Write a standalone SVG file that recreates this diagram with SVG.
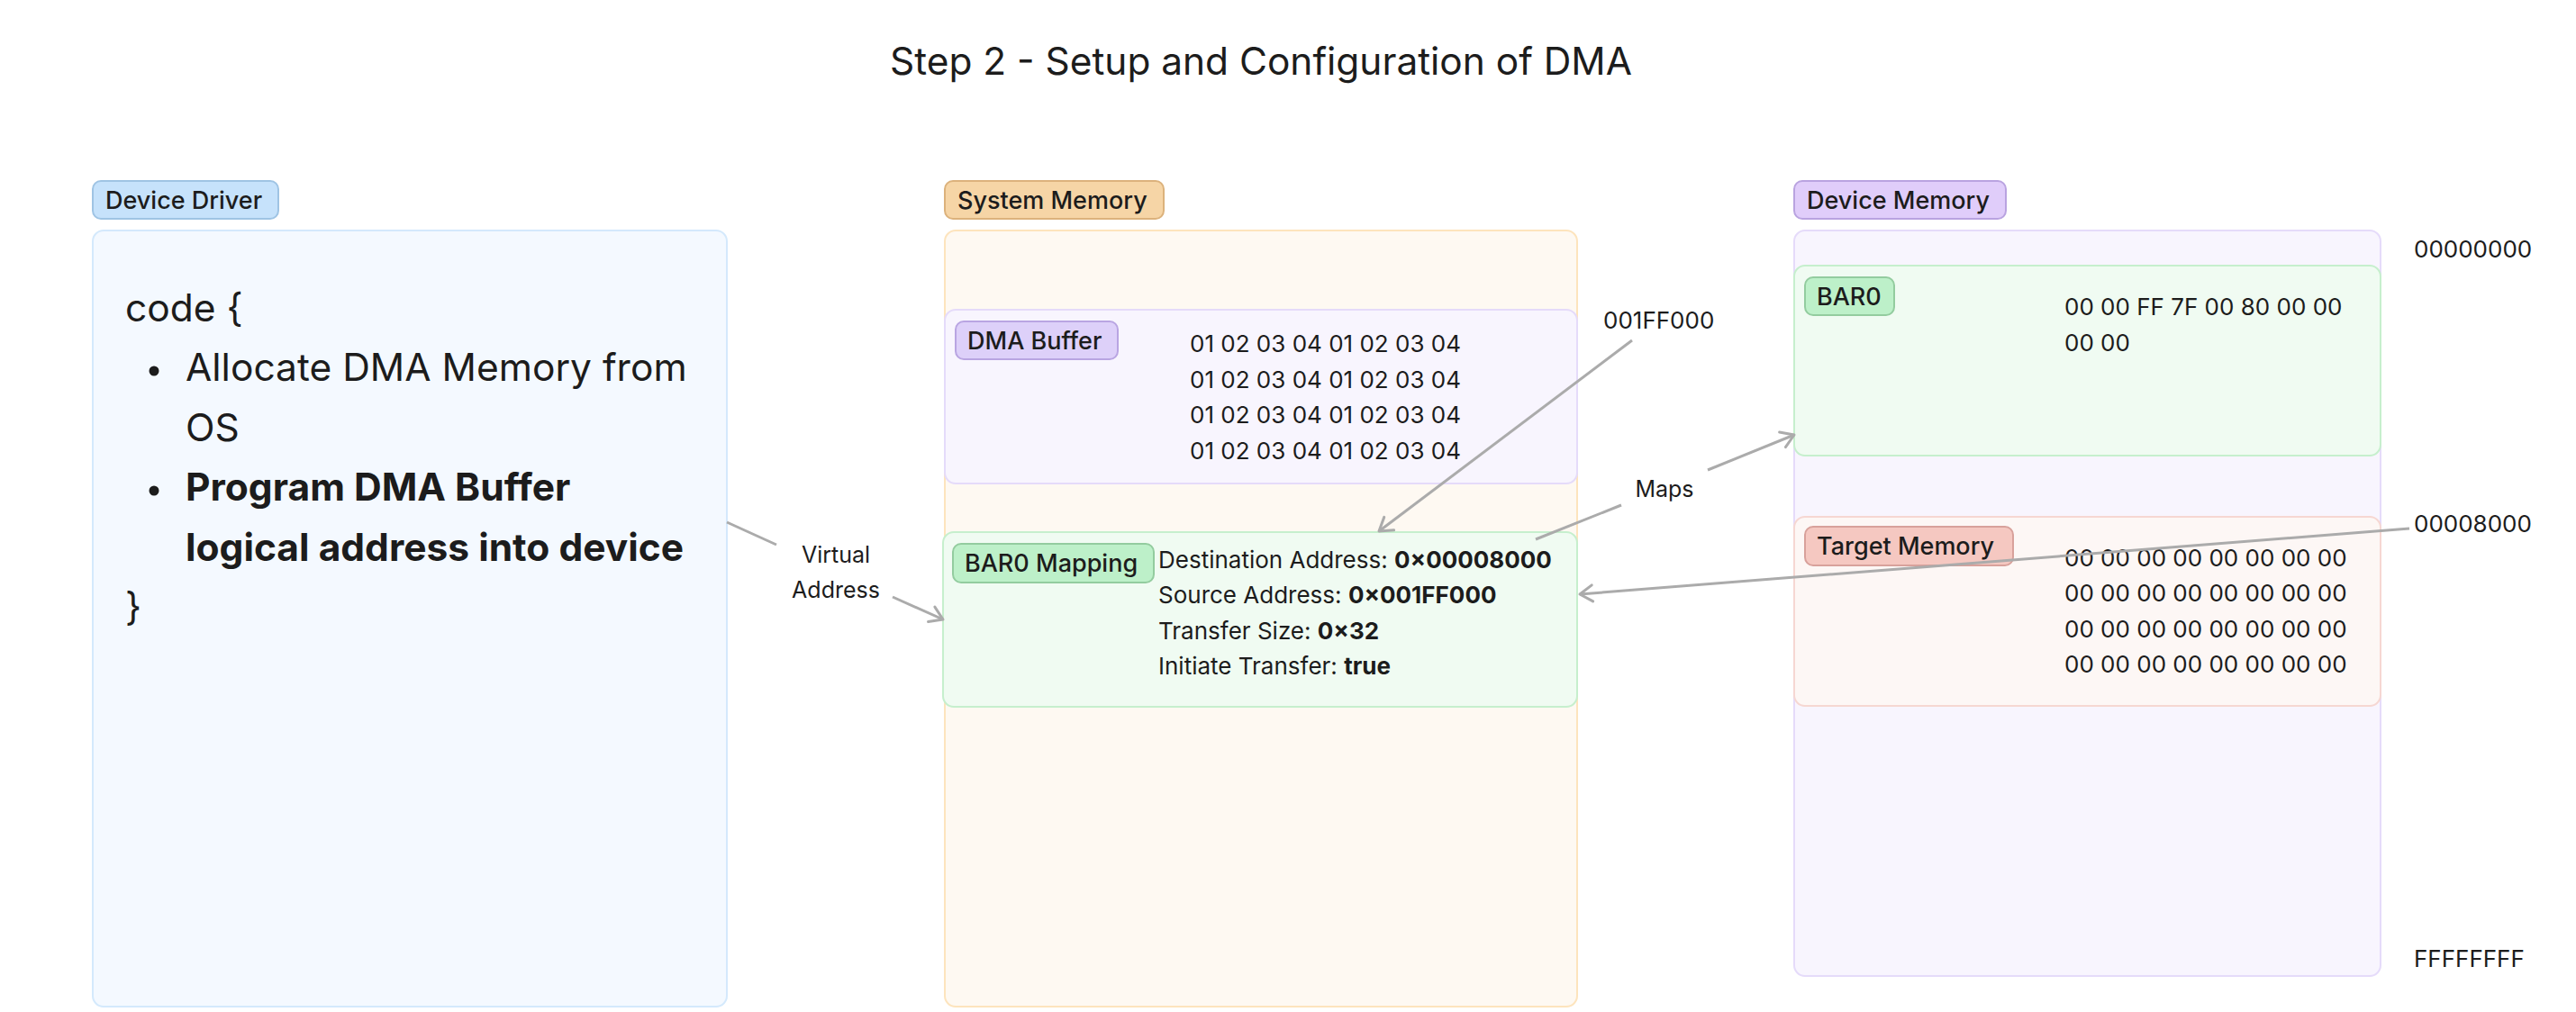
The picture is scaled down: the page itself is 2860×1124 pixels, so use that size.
<svg xmlns="http://www.w3.org/2000/svg" width="2860" height="1124" viewBox="0 0 2860 1124">
<defs>
<style>
text{font-family:Inter,"Noto Sans","Liberation Sans",sans-serif;fill:#1c1c1c;}
.title{font-size:42.4px;text-anchor:middle;}
.lbl{font-size:27px;font-weight:500;}
.txt{font-size:26px;}
.code{font-size:42.5px;}
.b{font-weight:700;}
.edge{fill:none;stroke:#ababab;stroke-width:3;}
.elbl{font-size:25px;text-anchor:middle;}
</style>
<marker id="arr" markerUnits="userSpaceOnUse" markerWidth="24" markerHeight="24" viewBox="0 0 24 24" refX="20" refY="12" orient="auto">
<path d="M6,3 L20,12 L6,21" fill="none" stroke="#ababab" stroke-width="3" stroke-linecap="round" stroke-linejoin="round"/>
</marker>
</defs>
<rect width="2860" height="1124" fill="#ffffff"/>
<text class="title" x="1400" y="83">Step 2 - Setup and Configuration of DMA</text>

<g id="device-driver">
<rect x="103" y="256" width="704" height="862" rx="12" fill="#f4f9ff" stroke="#d4e9fc" stroke-width="2"/>
<rect x="103" y="201" width="206" height="42" rx="9" fill="#c6e2fb" stroke="#9fc4e4" stroke-width="2"/>
<text class="lbl" x="117" y="232">Device Driver</text>
<text class="code" x="139" y="357">code {</text>
<circle cx="171" cy="412" r="5.5" fill="#1c1c1c"/>
<text class="code" x="206" y="423">Allocate DMA Memory from</text>
<text class="code" x="206" y="490">OS</text>
<circle cx="171" cy="545" r="5.5" fill="#1c1c1c"/>
<text class="code b" x="206" y="556">Program DMA Buffer</text>
<text class="code b" x="206" y="623">logical address into device</text>
<text class="code" x="139" y="689">}</text>
</g>

<g id="system-memory">
<rect x="1049" y="256" width="702" height="862" rx="12" fill="#fef9f2" stroke="#fde4bd" stroke-width="2"/>
<rect x="1049" y="201" width="243" height="42" rx="9" fill="#f6d5a6" stroke="#dcb27c" stroke-width="2"/>
<text class="lbl" x="1063" y="232">System Memory</text>
</g>

<g id="dma-buffer">
<rect x="1049" y="344" width="702" height="193" rx="12" fill="#f8f5fe" stroke="#e5dbfa" stroke-width="2"/>
<rect x="1061" y="357" width="180" height="42" rx="9" fill="#ddd0f9" stroke="#b9a5e2" stroke-width="2"/>
<text class="lbl" x="1074" y="388">DMA Buffer</text>
<text class="txt" x="1321" y="391">01 02 03 04 01 02 03 04</text>
<text class="txt" x="1321" y="431">01 02 03 04 01 02 03 04</text>
<text class="txt" x="1321" y="470">01 02 03 04 01 02 03 04</text>
<text class="txt" x="1321" y="510">01 02 03 04 01 02 03 04</text>
</g>

<g id="bar0-mapping">
<rect x="1047" y="591" width="704" height="194" rx="12" fill="#f0fbf2" stroke="#c6efcd" stroke-width="2"/>
<rect x="1058" y="604" width="223" height="43" rx="9" fill="#bdf0c9" stroke="#93cc9f" stroke-width="2"/>
<text class="lbl" x="1071" y="635">BAR0 Mapping</text>
<text class="txt" x="1286" y="631">Destination Address: <tspan class="b">0×00008000</tspan></text>
<text class="txt" x="1286" y="670">Source Address: <tspan class="b">0×001FF000</tspan></text>
<text class="txt" x="1286" y="710">Transfer Size: <tspan class="b">0×32</tspan></text>
<text class="txt" x="1286" y="749">Initiate Transfer: <tspan class="b">true</tspan></text>
</g>

<g id="device-memory">
<rect x="1992" y="256" width="651" height="828" rx="12" fill="#f8f5fe" stroke="#e5dbfa" stroke-width="2"/>
<rect x="1992" y="201" width="235" height="42" rx="9" fill="#e0cdfa" stroke="#b9a3e0" stroke-width="2"/>
<text class="lbl" x="2006" y="232">Device Memory</text>
</g>

<g id="bar0">
<rect x="1992" y="295" width="651" height="211" rx="12" fill="#f0fbf2" stroke="#c6efcd" stroke-width="2"/>
<rect x="2004" y="308" width="99" height="42" rx="9" fill="#bdf0c9" stroke="#93cc9f" stroke-width="2"/>
<text class="lbl" x="2017" y="339">BAR0</text>
<text class="txt" x="2292" y="350">00 00 FF 7F 00 80 00 00</text>
<text class="txt" x="2292" y="390">00 00</text>
</g>

<g id="target-memory">
<rect x="1992" y="574" width="651" height="210" rx="12" fill="#fdf7f5" stroke="#f6d7d2" stroke-width="2"/>
<rect x="2004" y="585" width="231" height="43" rx="9" fill="#f5c8c1" stroke="#d8a19b" stroke-width="2"/>
<text class="lbl" x="2017" y="616">Target Memory</text>
<text class="txt" x="2292" y="629">00 00 00 00 00 00 00 00</text>
<text class="txt" x="2292" y="668">00 00 00 00 00 00 00 00</text>
<text class="txt" x="2292" y="708">00 00 00 00 00 00 00 00</text>
<text class="txt" x="2292" y="747">00 00 00 00 00 00 00 00</text>
</g>

<g id="address-labels">
<text class="txt" x="2680" y="286">00000000</text>
<text class="txt" x="2680" y="591">00008000</text>
<text class="txt" x="2680" y="1074">FFFFFFFF</text>
<text class="txt" x="1780" y="365">001FF000</text>
</g>

<g id="connectors">
<path class="edge" d="M807,580 L862,605"/>
<path class="edge" d="M991,663 L1047,688" marker-end="url(#arr)"/>
<text class="elbl" x="928" y="625">Virtual</text>
<text class="elbl" x="928" y="664">Address</text>
<path class="edge" d="M1812,378 L1531,590" marker-end="url(#arr)"/>
<path class="edge" d="M1705,599 L1800,561"/>
<path class="edge" d="M1896,522 L1992,483" marker-end="url(#arr)"/>
<text class="elbl" x="1848" y="552">Maps</text>
<path class="edge" d="M2675,587 L1754,660" marker-end="url(#arr)"/>
</g>
</svg>
